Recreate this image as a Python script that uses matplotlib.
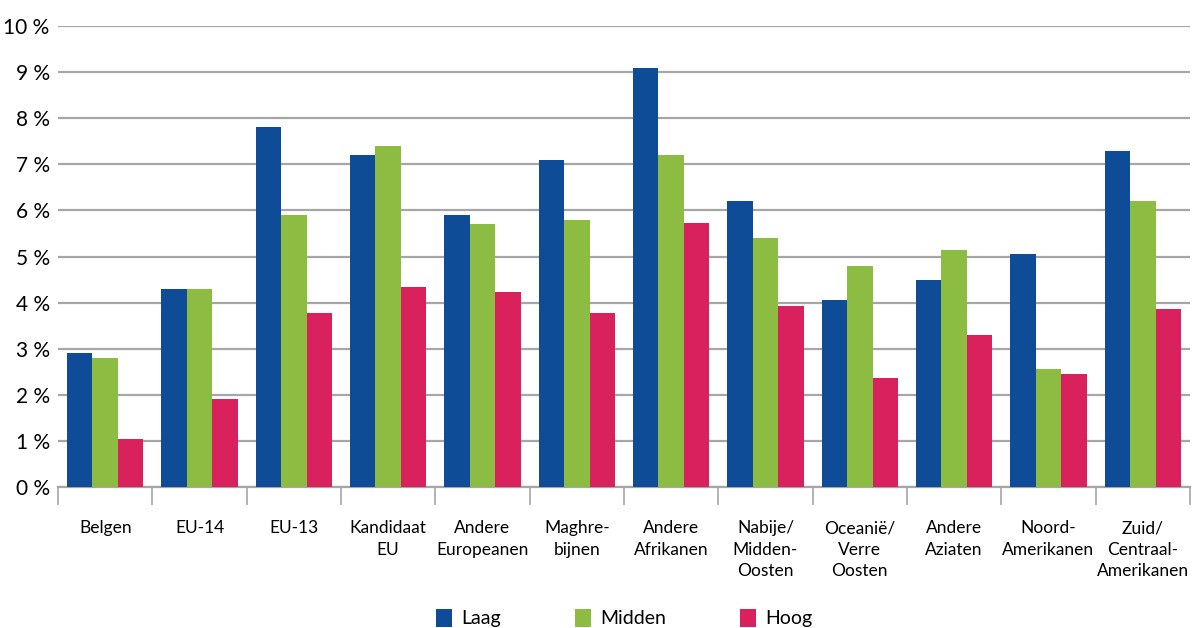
import numpy as np
import matplotlib
matplotlib.use('Agg')
from matplotlib import pyplot as plt
from matplotlib.patches import Patch

plt.rcParams['font.family'] = ['Lato', 'DejaVu Sans']

# 数据
categories = ['Belgen', 'EU-14', 'EU-13', 'Kandidaat\nEU', 'Andere\nEuropeanen',
              'Maghre-\nbijnen', 'Andere\nAfrikanen', 'Nabije/\nMidden-\nOosten',
              'Oceanië/\nVerre\nOosten', 'Andere\nAziaten', 'Noord-\nAmerikanen',
              'Zuid/\nCentraal-\nAmerikanen']
laag = [2.9, 4.3, 7.8, 7.2, 5.9, 7.1, 9.1, 6.2, 4.05, 4.5, 5.05, 7.3]
midden = [2.8, 4.3, 5.9, 7.4, 5.7, 5.8, 7.2, 5.4, 4.8, 5.15, 2.55, 6.2]
hoog = [1.05, 1.9, 3.77, 4.33, 4.22, 3.77, 5.72, 3.93, 2.36, 3.3, 2.45, 3.86]
series_names = ['Laag', 'Midden', 'Hoog']
colors = ['#0f4c97', '#8cbd42', '#d9215d']

fig = plt.figure(figsize=(11.94, 6.28), dpi=100)
ax = fig.add_axes([0.0486, 0.2245, 0.948, 0.734])

x = np.arange(len(categories))
w = 0.27
for i, vals in enumerate([laag, midden, hoog]):
    ax.bar(x + (i - 1) * w, vals, width=w, color=colors[i], zorder=3)

ax.set_xlim(-0.5, len(categories) - 0.5)
ax.set_ylim(0, 10)
ax.set_yticks(range(0, 11))
ax.set_yticklabels(['%d %%' % v for v in range(0, 11)], fontsize=15)
ax.yaxis.grid(True, color='#a6a6a6', linewidth=1.6, zorder=0)
ax.tick_params(axis='y', length=0, pad=6)

# 分类标签
ax.set_xticks(x)
ax.set_xticklabels(categories, fontsize=12.5, linespacing=1.4, va='top')
ax.tick_params(axis='x', length=0, pad=24)
ax.set_xticks(np.arange(-0.5, len(categories)), minor=True)
ax.tick_params(axis='x', which='minor', length=13, width=1.2, color='#a6a6a6', direction='out')

for s in ['top', 'right', 'left']:
    ax.spines[s].set_visible(False)
ax.spines['bottom'].set_color('#a6a6a6')
ax.spines['bottom'].set_linewidth(1.6)

handles = [Patch(facecolor=c) for c in colors]
fig.legend(handles, series_names, loc='lower center', ncol=3, frameon=False,
           fontsize=14, bbox_to_anchor=(0.523, -0.027), handlelength=0.8,
           handleheight=1.1, handletextpad=0.5, columnspacing=3.8)

plt.savefig('out.png', dpi=100)
